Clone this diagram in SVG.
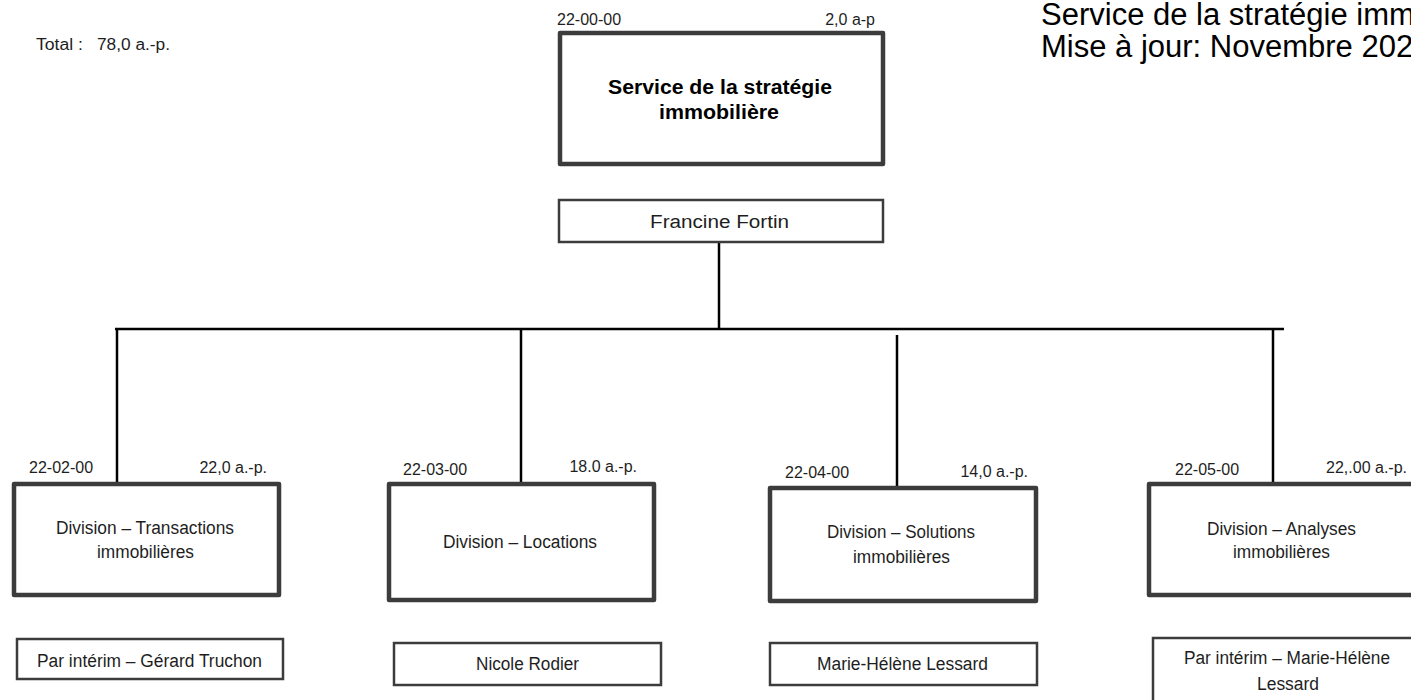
<svg xmlns="http://www.w3.org/2000/svg" width="1411" height="700" viewBox="0 0 1411 700">
<style>
.box{fill:#fff;stroke:#3c3c3c;stroke-width:4.5;stroke-linejoin:round}
.pbox{fill:#fff;stroke:#3c3c3c;stroke-width:2.5}
.con{stroke:#000;stroke-width:2.5;fill:none}
text{font-family:"Liberation Sans",Arial,sans-serif;fill:#1e1e1e}
.lbl{font-size:16px}
.body{font-size:18px;text-anchor:middle}
.title{font-size:19.5px;font-weight:bold;text-anchor:middle;fill:#000}
.hdr{font-size:31px;fill:#000}
.end{text-anchor:end}
</style>
<rect width="1411" height="700" fill="#fff"/>
<g id="header">
<text class="hdr" x="1041" y="25">Service de la stratégie immobilière</text>
<text class="hdr" x="1041" y="57">Mise à jour: Novembre 202</text>
</g>
<g id="total">
<text class="lbl" x="36" y="50" textLength="47" lengthAdjust="spacingAndGlyphs">Total :</text>
<text class="lbl" x="97" y="50" textLength="73" lengthAdjust="spacingAndGlyphs">78,0 a.-p.</text>
</g>
<g id="connectors">
<line class="con" x1="719" y1="243" x2="719" y2="329"/>
<line class="con" x1="115" y1="329" x2="1284" y2="329" stroke-width="4"/>
<line class="con" x1="117" y1="329" x2="117" y2="483"/>
<line class="con" x1="521" y1="329" x2="521" y2="483"/>
<line class="con" x1="897" y1="335" x2="897" y2="487"/>
<line class="con" x1="1273" y1="329" x2="1273" y2="483"/>
</g>
<g id="n-service">
<rect class="box" x="560" y="33" width="323" height="131"/>
<text class="lbl" x="557" y="25">22-00-00</text>
<text class="lbl end" x="875" y="25">2,0 a-p</text>
<text class="title" x="720" y="94" textLength="224" lengthAdjust="spacingAndGlyphs">Service de la stratégie</text>
<text class="title" x="719" y="119" textLength="120" lengthAdjust="spacingAndGlyphs">immobilière</text>
</g>
<g id="n-fortin">
<rect class="pbox" x="559" y="200" width="324" height="42"/>
<text class="body" x="719.5" y="228" textLength="139" lengthAdjust="spacingAndGlyphs">Francine Fortin</text>
</g>
<g id="n-transactions">
<rect class="box" x="14" y="484" width="265" height="111"/>
<text class="lbl" x="29" y="473">22-02-00</text>
<text class="lbl end" x="267" y="473">22,0 a.-p.</text>
<text class="body" x="145" y="534" textLength="178" lengthAdjust="spacingAndGlyphs">Division – Transactions</text>
<text class="body" x="145.5" y="558" textLength="97" lengthAdjust="spacingAndGlyphs">immobilières</text>
</g>
<g id="n-truchon">
<rect class="pbox" x="17" y="639" width="266" height="40"/>
<text class="body" x="149.5" y="667" textLength="225" lengthAdjust="spacingAndGlyphs">Par intérim – Gérard Truchon</text>
</g>
<g id="n-locations">
<rect class="box" x="389" y="484" width="265" height="116"/>
<text class="lbl" x="403" y="475">22-03-00</text>
<text class="lbl end" x="637" y="472">18.0 a.-p.</text>
<text class="body" x="520" y="548" textLength="154" lengthAdjust="spacingAndGlyphs">Division – Locations</text>
</g>
<g id="n-rodier">
<rect class="pbox" x="394" y="643" width="267" height="42"/>
<text class="body" x="527.5" y="670" textLength="103" lengthAdjust="spacingAndGlyphs">Nicole Rodier</text>
</g>
<g id="n-solutions">
<rect class="box" x="770" y="488" width="266" height="113"/>
<text class="lbl" x="785" y="478">22-04-00</text>
<text class="lbl end" x="1028" y="477">14,0 a.-p.</text>
<text class="body" x="901" y="538" textLength="148" lengthAdjust="spacingAndGlyphs">Division – Solutions</text>
<text class="body" x="901.5" y="563" textLength="97" lengthAdjust="spacingAndGlyphs">immobilières</text>
</g>
<g id="n-lessard">
<rect class="pbox" x="770" y="643" width="267" height="42"/>
<text class="body" x="902.5" y="670" textLength="171" lengthAdjust="spacingAndGlyphs">Marie-Hélène Lessard</text>
</g>
<g id="n-analyses">
<rect class="box" x="1149" y="484" width="290" height="111"/>
<text class="lbl" x="1175" y="475">22-05-00</text>
<text class="lbl end" x="1407" y="473">22,.00 a.-p.</text>
<text class="body" x="1281.5" y="535" textLength="149" lengthAdjust="spacingAndGlyphs">Division – Analyses</text>
<text class="body" x="1281.5" y="558" textLength="97" lengthAdjust="spacingAndGlyphs">immobilières</text>
</g>
<g id="n-lessard-interim">
<rect class="pbox" x="1153" y="638" width="300" height="80"/>
<text class="body" x="1287" y="664" textLength="206" lengthAdjust="spacingAndGlyphs">Par intérim – Marie-Hélène</text>
<text class="body" x="1288" y="690" textLength="62" lengthAdjust="spacingAndGlyphs">Lessard</text>
</g>
</svg>
